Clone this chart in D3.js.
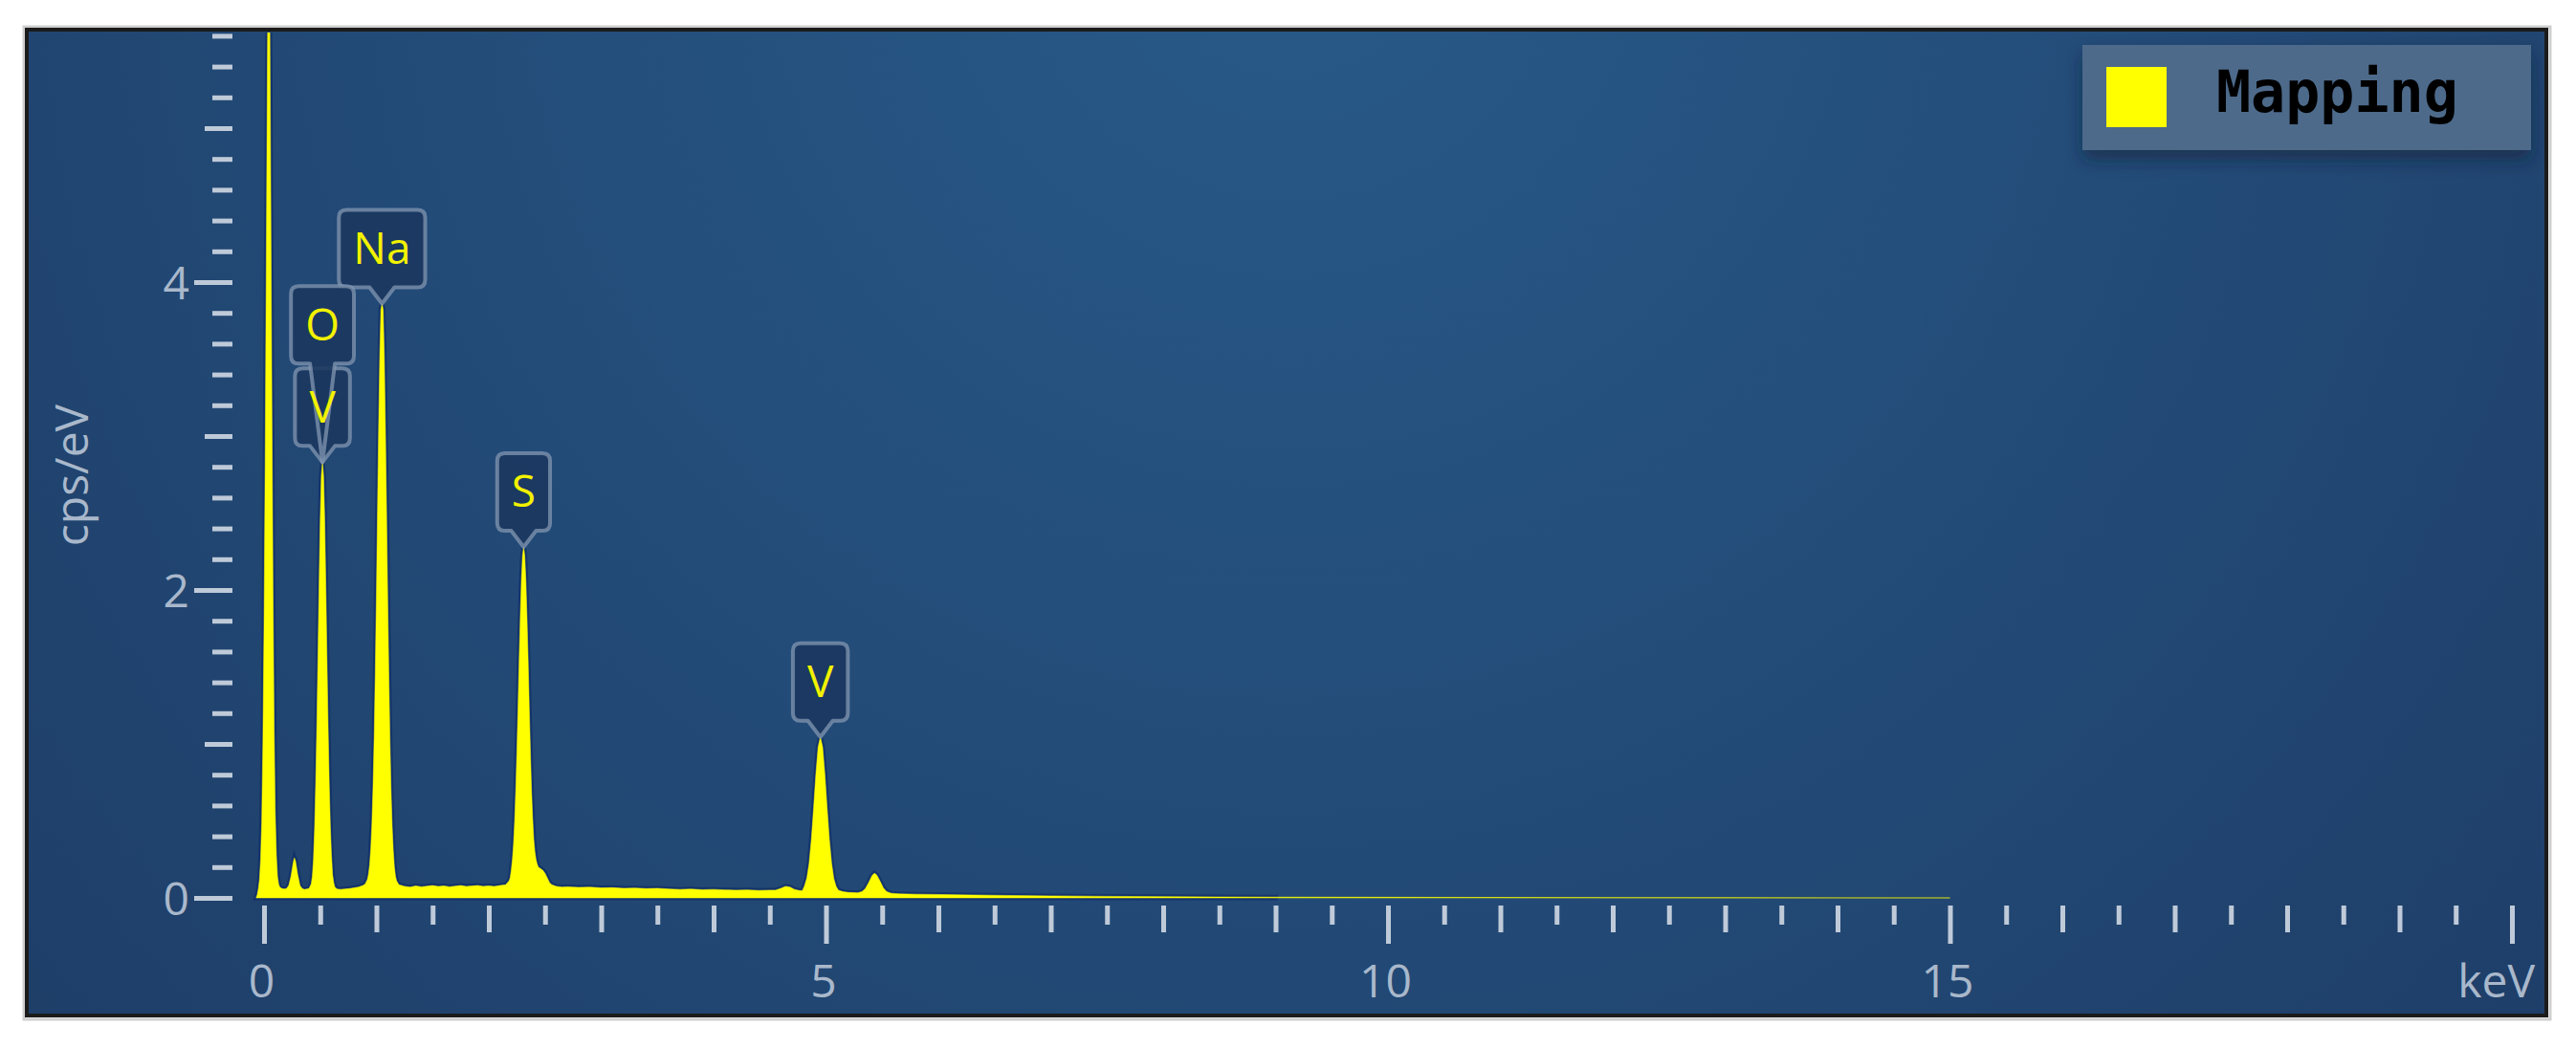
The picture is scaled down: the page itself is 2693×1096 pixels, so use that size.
<!DOCTYPE html>
<html><head><meta charset="utf-8">
<script src="https://cdn.jsdelivr.net/npm/d3@7"></script>
<style>html,body{margin:0;padding:0;background:#fff;} svg{display:block;}</style>
</head><body>
<svg id="chart" width="2693" height="1096"></svg>
<script>
// ---------------- DATA ----------------
const energyKeV = [
 -0.07,-0.06,-0.05,-0.04,-0.03,-0.02,-0.01,0.00,0.01,0.02,0.03,0.04,0.05,0.06,0.07,0.08,0.09,0.10,0.11,0.12,0.13,
 0.14,0.16,0.18,0.20,0.22,0.24,0.26,0.27,0.28,0.30,0.32,0.34,0.36,0.38,0.40,
 0.42,0.43,0.44,0.45,0.46,0.47,0.48,0.49,0.50,0.51,0.52,0.53,0.54,0.55,0.56,0.57,0.58,0.59,0.60,0.61,0.62,0.63,0.65,
 0.68,0.72,0.76,0.80,0.84,0.88,0.90,
 0.92,0.93,0.94,0.95,0.96,0.97,0.98,0.99,1.00,1.01,1.02,1.03,1.04,1.05,1.06,1.07,1.08,1.09,1.10,1.11,1.12,1.13,1.14,1.15,1.16,1.17,1.18,1.20,
 1.25,1.30,1.35,1.40,1.45,1.50,1.55,1.60,1.65,1.70,1.75,1.80,1.85,1.90,1.95,2.00,2.05,2.10,2.15,
 2.18,2.19,2.20,2.21,2.22,2.23,2.24,2.25,2.26,2.27,2.28,2.29,2.30,2.31,2.32,2.33,2.34,2.35,2.36,2.37,2.38,2.39,2.40,2.41,2.42,2.43,2.44,2.46,2.48,2.50,2.52,2.54,2.56,2.60,
 2.65,2.70,2.80,2.90,3.00,3.10,3.20,3.30,3.40,3.50,3.60,3.70,3.80,3.90,4.00,4.10,4.20,4.30,4.40,4.50,
 4.55,4.60,4.64,4.68,4.72,4.76,
 4.79,4.81,4.83,4.85,4.87,4.89,4.91,4.93,4.95,4.97,4.99,5.01,5.03,5.05,5.07,5.09,5.11,5.15,5.20,5.25,
 5.28,5.32,5.35,5.38,5.41,5.43,5.45,5.48,5.51,5.54,5.58,5.65,
 5.80,6.00,6.30,6.60,7.00,7.50,8.00,8.50,9.00,10.0,11.0,12.0,13.0,14.0,15.0
];
const countsCps = [
 0,0.02,0.06,0.12,0.25,0.5,1.0,1.75,2.8,4.1,5.4,6.4,5.9,4.6,3.2,2.0,1.1,0.55,0.28,0.14,0.09,
 0.07,0.06,0.058,0.06,0.08,0.14,0.23,0.26,0.24,0.15,0.08,0.06,0.055,0.058,0.06,
 0.09,0.14,0.25,0.45,0.75,1.12,1.56,2.03,2.45,2.74,2.83,2.74,2.45,2.03,1.56,1.12,0.75,0.47,0.28,0.15,0.10,0.07,0.058,
 0.055,0.058,0.06,0.065,0.07,0.08,0.09,
 0.12,0.155,0.215,0.32,0.48,0.72,1.04,1.47,1.97,2.53,3.06,3.52,3.82,3.86,3.82,3.52,3.06,2.53,1.97,1.47,1.04,0.71,0.47,0.31,0.20,0.14,0.11,0.085,
 0.075,0.07,0.078,0.072,0.076,0.08,0.074,0.078,0.072,0.076,0.08,0.074,0.077,0.08,0.075,0.078,0.074,0.08,0.085,
 0.11,0.13,0.18,0.25,0.35,0.50,0.70,0.95,1.23,1.54,1.82,2.06,2.22,2.28,2.22,2.06,1.82,1.54,1.23,0.95,0.70,0.52,0.38,0.30,0.25,0.22,0.20,0.19,0.18,0.16,0.13,0.10,0.085,0.075,
 0.07,0.072,0.068,0.07,0.065,0.066,0.062,0.064,0.06,0.062,0.058,0.055,0.057,0.053,0.055,0.052,0.05,0.052,0.048,0.05,
 0.05,0.062,0.075,0.07,0.055,0.048,
 0.047,0.08,0.13,0.225,0.38,0.585,0.805,0.98,1.045,0.98,0.805,0.585,0.38,0.225,0.125,0.075,0.05,0.04,0.035,0.034,
 0.033,0.04,0.06,0.10,0.145,0.16,0.15,0.11,0.065,0.04,0.03,0.026,
 0.024,0.022,0.019,0.016,0.013,0.01,0.008,0.006,0.005,0.004,0.003,0.002,0.0012,0.0005,0
];
const xTickLabels = [0, 5, 10, 15];
const yTickLabels = [0, 2, 4];
const xUnitLabel = "keV";
const yUnitLabel = "cps/eV";
const peakElements = ["V", "O", "Na", "S", "V"];
const peakEnergies = [0.52, 0.52, 1.05, 2.31, 4.95];
const peakHeights  = [2.83, 2.83, 3.86, 2.28, 1.045];
const peakStackLevel = [0, 1, 0, 0, 0];
const legendLabels = ["Mapping"];

// ---------------- LAYOUT ----------------
const panel = {x: 28, y: 31, w: 2634, h: 1031};
const svg = d3.select("#chart");
const defs = svg.append("defs");

const bg = defs.append("radialGradient").attr("id","bg")
  .attr("gradientUnits","userSpaceOnUse").attr("cx",1350).attr("cy",-80).attr("r",1900);
bg.append("stop").attr("offset",0).attr("stop-color","#285a88");
bg.append("stop").attr("offset",0.5).attr("stop-color","#234b78");
bg.append("stop").attr("offset",1).attr("stop-color","#1d3c65");

defs.append("clipPath").attr("id","plotclip").append("rect")
  .attr("x", panel.x+3).attr("y", panel.y+3).attr("width", panel.w-6).attr("height", panel.h-6);

const sh = defs.append("filter").attr("id","legshadow").attr("x","-10%").attr("y","-20%").attr("width","120%").attr("height","160%");
sh.append("feDropShadow").attr("dx",0).attr("dy",10).attr("stdDeviation",9)
  .attr("flood-color","#0b1c36").attr("flood-opacity",0.55);

svg.append("rect").attr("x",panel.x-3).attr("y",panel.y-3).attr("width",panel.w+7).attr("height",panel.h+7)
  .attr("fill","none").attr("stroke","#cfcfcf").attr("stroke-width",3);
svg.append("rect").attr("x",panel.x).attr("y",panel.y).attr("width",panel.w).attr("height",panel.h)
  .attr("fill","url(#bg)").attr("stroke","#1b1b1b").attr("stroke-width",4);

const x = d3.scaleLinear().domain([0, 20]).range([276, 2626]);
const y = d3.scaleLinear().domain([0, 1]).range([939, 778]);

const axisColor = "#bfcad9";
const textColor = "#a9b8cb";
const fontFam = "'Open Sans', 'Noto Sans', sans-serif";

// ---------------- SPECTRUM ----------------
const spectrum = energyKeV.map((e, i) => [e, countsCps[i]]);
const area = d3.area().x(d => x(d[0])).y0(y(0)).y1(d => y(d[1])).curve(d3.curveLinear);
const plot = svg.append("g").attr("clip-path","url(#plotclip)");
plot.append("path").datum(spectrum.filter(d => d[0] <= 9)).attr("d", area)
  .attr("fill","none").attr("stroke","#0f2c68").attr("stroke-width",5).attr("stroke-opacity",0.7);
plot.append("path").datum(spectrum).attr("d", area)
  .attr("fill","#ffff00").attr("stroke","#ffff00").attr("stroke-width",0.5);

// ---------------- AXES ----------------
function styleTicks(g, width){
  g.select(".domain").remove();
  g.selectAll(".tick line").attr("stroke", axisColor).attr("stroke-width", width);
}
const halfTicks = d3.range(0, 41).map(i => i/2);
const xShort = halfTicks.filter(v => v % 1 !== 0);
const xMid = halfTicks.filter(v => v % 1 === 0 && v % 5 !== 0);
const xMajor = halfTicks.filter(v => v % 5 === 0);
[[xShort,20],[xMid,28],[xMajor,40]].forEach(([vals,len]) => {
  svg.append("g").attr("transform","translate(0,947)")
    .call(d3.axisBottom(x).tickValues(vals).tickSize(len).tickFormat(""))
    .call(g => styleTicks(g, 5));
});
const yAll = d3.range(0, 29).map(i => +(i*0.2).toFixed(1));
const yShort = yAll.filter(v => Math.abs(v - Math.round(v)) > 1e-6);
const yMid = yAll.filter(v => Math.abs(v - Math.round(v)) < 1e-6 && Math.round(v) % 2 === 1);
const yMajor = yAll.filter(v => Math.abs(v - Math.round(v)) < 1e-6 && Math.round(v) % 2 === 0);
[[yShort,21],[yMid,29],[yMajor,40]].forEach(([vals,len]) => {
  svg.append("g").attr("transform","translate(243,0)")
    .call(d3.axisLeft(y).tickValues(vals).tickSize(len).tickFormat(""))
    .call(g => styleTicks(g, 5));
});

svg.append("g").attr("transform","translate(0,1043)")
  .call(d3.axisBottom(x).tickValues(xTickLabels).tickSize(0).tickPadding(0).tickFormat(d3.format("d")))
  .call(g => {
    g.select(".domain").remove();
    g.selectAll("text").attr("y",0).attr("dy",null).attr("dx","-3")
      .attr("fill",textColor).style("font-family",fontFam).style("font-size","48px");
  });
svg.append("g").attr("transform","translate(198,0)")
  .call(d3.axisLeft(y).tickValues(yTickLabels).tickSize(0).tickPadding(0).tickFormat(d3.format("d")))
  .call(g => {
    g.select(".domain").remove();
    g.selectAll("text").attr("dy","0.36em")
      .attr("fill",textColor).style("font-family",fontFam).style("font-size","48px");
  });

svg.append("text").attr("x",2650).attr("y",1043).attr("text-anchor","end")
  .attr("fill",textColor).style("font-family",fontFam).style("font-size","48px").text(xUnitLabel);
svg.append("text").attr("transform","translate(92,497) rotate(-90)").attr("text-anchor","middle")
  .attr("fill",textColor).style("font-family",fontFam).style("font-size","48px").text(yUnitLabel);

// ---------------- PEAK LABELS ----------------
const labG = svg.append("g");
const boxesG = labG.append("g"), textsG = labG.append("g");
const boxH = 81, ptrH = 17, ptrHalf = 13, gap = 5, r = 8, pad = 15;
const order = d3.range(peakElements.length).sort((a,b) => peakStackLevel[a] - peakStackLevel[b]);
order.forEach(i => {
  const cx = x(peakEnergies[i]);
  const tipY = y(peakHeights[i]);
  const bottom = tipY - ptrH - peakStackLevel[i] * (boxH + gap);
  const top = bottom - boxH;
  const t = textsG.append("text").attr("x", cx).attr("y", (top+bottom)/2 + 16)
    .attr("text-anchor","middle").attr("fill","#f2f200")
    .style("font-family",fontFam).style("font-size","46px").text(peakElements[i]);
  const tw = t.node().getComputedTextLength();
  const x0 = cx - tw/2 - pad, x1 = cx + tw/2 + pad;
  const p = d3.path();
  p.moveTo(x0 + r, top);
  p.lineTo(x1 - r, top);
  p.quadraticCurveTo(x1, top, x1, top + r);
  p.lineTo(x1, bottom - r);
  p.quadraticCurveTo(x1, bottom, x1 - r, bottom);
  p.lineTo(cx + ptrHalf, bottom);
  p.lineTo(cx, tipY);
  p.lineTo(cx - ptrHalf, bottom);
  p.lineTo(x0 + r, bottom);
  p.quadraticCurveTo(x0, bottom, x0, bottom - r);
  p.lineTo(x0, top + r);
  p.quadraticCurveTo(x0, top, x0 + r, top);
  p.closePath();
  boxesG.append("path").attr("d", p.toString())
    .attr("fill","#1a375e").attr("fill-opacity",0.88)
    .attr("stroke","#8397b1").attr("stroke-opacity",0.75).attr("stroke-width",4)
    .attr("stroke-linejoin","round");
});

// ---------------- LEGEND ----------------
const leg = svg.append("g").attr("transform","translate(2177,47)");
leg.append("rect").attr("width",469).attr("height",110).attr("fill","#4e6a8b").attr("filter","url(#legshadow)");
leg.append("rect").attr("x",25).attr("y",23).attr("width",63).attr("height",63).attr("fill","#ffff00");
leg.append("text").attr("x",140).attr("y",70).attr("fill","#000")
  .style("font-family","'DejaVu Sans Mono', monospace").style("font-weight","bold").style("font-size","60px")
  .text(legendLabels[0]);
</script>
</body></html>
